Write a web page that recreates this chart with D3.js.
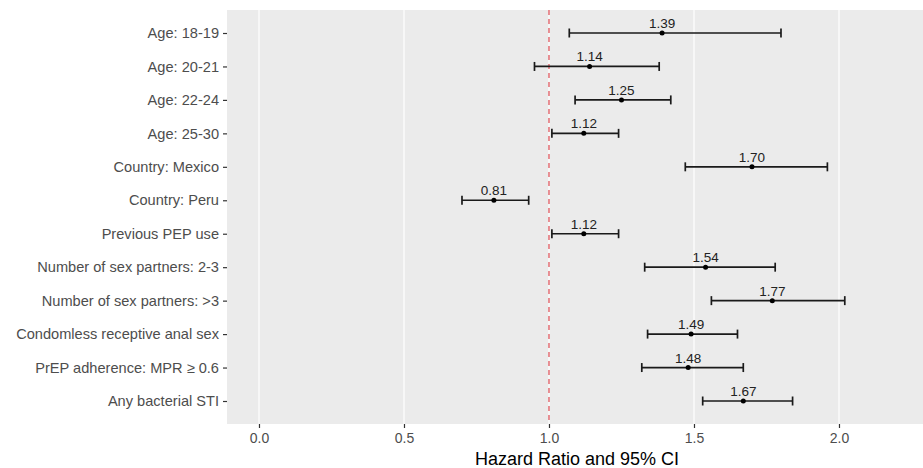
<!DOCTYPE html>
<html><head><meta charset="utf-8">
<script src="https://cdn.jsdelivr.net/npm/d3@7"></script>
<style>body{margin:0;background:#fff}svg{display:block}</style>
</head><body>
<script>
const categories = ["Age: 18-19","Age: 20-21","Age: 22-24","Age: 25-30","Country: Mexico","Country: Peru","Previous PEP use","Number of sex partners: 2-3","Number of sex partners: >3","Condomless receptive anal sex","PrEP adherence: MPR \u2265 0.6","Any bacterial STI"];
const hr    = [1.39,1.14,1.25,1.12,1.70,0.81,1.12,1.54,1.77,1.49,1.48,1.67];
const lower = [1.07,0.95,1.09,1.01,1.47,0.70,1.01,1.33,1.56,1.34,1.32,1.53];
const upper = [1.80,1.38,1.42,1.24,1.96,0.93,1.24,1.78,2.02,1.65,1.67,1.84];
const xTicks = [0,0.5,1,1.5,2];
const xTitle = "Hazard Ratio and 95% CI";

const W=923,H=468;
const panel={left:227,right:923,top:10,bottom:424};
const svg=d3.select("body").append("svg").attr("width",W).attr("height",H);
const font="Liberation Sans, Arial, Helvetica, sans-serif";

const x=d3.scaleLinear().domain([-0.1103,2.2897]).range([panel.left,panel.right]);
const y=d3.scalePoint().domain(categories).range([33,401]);

svg.append("rect").attr("x",panel.left).attr("y",panel.top)
  .attr("width",panel.right-panel.left).attr("height",panel.bottom-panel.top).attr("fill","#EBEBEB");

// grid
svg.append("g").selectAll("line").data(xTicks).join("line")
  .attr("x1",d=>x(d)).attr("x2",d=>x(d)).attr("y1",panel.top).attr("y2",panel.bottom)
  .attr("stroke","#fff").attr("stroke-width",1.2);

// reference line
svg.append("line").attr("x1",x(1)).attr("x2",x(1)).attr("y1",panel.top).attr("y2",panel.bottom)
  .attr("stroke","#e0646a").attr("stroke-width",1.4).attr("stroke-dasharray","5,4");

// error bars
const g=svg.append("g");
const idx=d3.range(categories.length);
g.selectAll("line.ci").data(idx).join("line").attr("class","ci")
  .attr("x1",i=>x(lower[i])).attr("x2",i=>x(upper[i]))
  .attr("y1",i=>y(categories[i])).attr("y2",i=>y(categories[i]))
  .attr("stroke","#1a1a1a").attr("stroke-width",1.7);
[lower,upper].forEach(arr=>{
  g.selectAll(null).data(idx).join("line")
    .attr("x1",i=>x(arr[i])).attr("x2",i=>x(arr[i]))
    .attr("y1",i=>y(categories[i])-4.5).attr("y2",i=>y(categories[i])+4.5)
    .attr("stroke","#1a1a1a").attr("stroke-width",1.7);
});
g.selectAll("circle").data(idx).join("circle")
  .attr("cx",i=>x(hr[i])).attr("cy",i=>y(categories[i])).attr("r",2.5).attr("fill","#000");
g.selectAll("text").data(idx).join("text")
  .attr("x",i=>x(hr[i])).attr("y",i=>y(categories[i])-5)
  .attr("text-anchor","middle").attr("font-family",font).attr("font-size",13.5)
  .attr("fill","#222").text(i=>hr[i].toFixed(2));

// y axis
const ya=svg.append("g").attr("transform",`translate(${panel.left},0)`)
  .call(d3.axisLeft(y).tickSize(4).tickPadding(4));
ya.select(".domain").remove();
ya.selectAll(".tick line").attr("stroke","#333").attr("stroke-width",1.2);
ya.selectAll(".tick text").attr("font-family",font).attr("font-size",14.6).attr("fill","#4D4D4D");

// x axis
const xa=svg.append("g").attr("transform",`translate(0,${panel.bottom})`)
  .call(d3.axisBottom(x).tickValues(xTicks).tickFormat(d3.format(".1f")).tickSize(4).tickPadding(5));
xa.select(".domain").remove();
xa.selectAll(".tick line").attr("stroke","#333").attr("stroke-width",1.2);
xa.selectAll(".tick text").attr("font-family",font).attr("font-size",14).attr("fill","#4D4D4D");

svg.append("text").attr("x",577).attr("y",465)
  .attr("text-anchor","middle").attr("font-family",font).attr("font-size",18)
  .attr("fill","#000").text(xTitle);
</script>
</body></html>
